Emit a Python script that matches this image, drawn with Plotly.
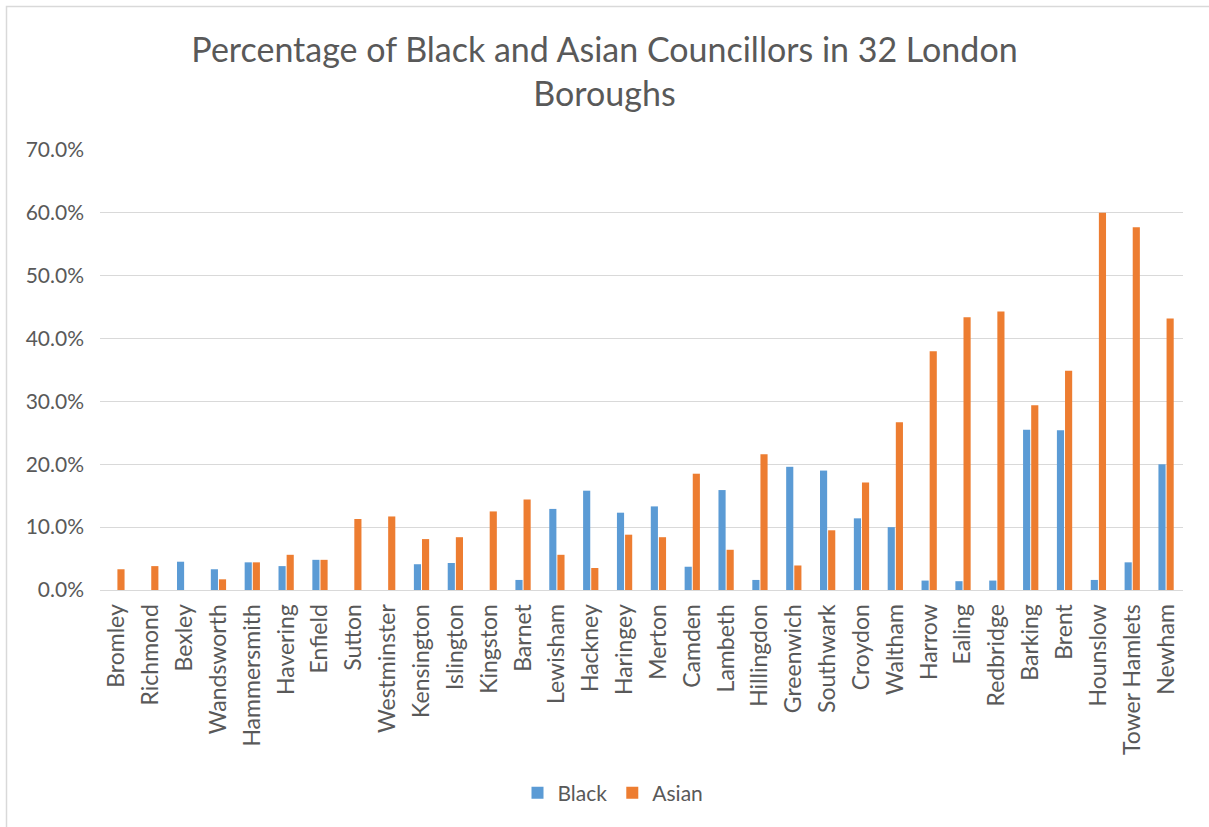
import plotly.graph_objects as go

boroughs = ["Bromley", "Richmond", "Bexley", "Wandsworth", "Hammersmith", "Havering",
            "Enfield", "Sutton", "Westminster", "Kensington", "Islington", "Kingston",
            "Barnet", "Lewisham", "Hackney", "Haringey", "Merton", "Camden", "Lambeth",
            "Hillingdon", "Greenwich", "Southwark", "Croydon", "Waltham", "Harrow",
            "Ealing", "Redbridge", "Barking", "Brent", "Hounslow", "Tower Hamlets", "Newham"]

black = [0.0, 0.0, 4.5, 3.3, 4.4, 3.8, 4.8, 0.0, 0.0, 4.1, 4.3, 0.0,
         1.6, 12.9, 15.8, 12.3, 13.3, 3.7, 15.9, 1.6, 19.6, 19.0, 11.4, 10.0,
         1.5, 1.4, 1.5, 25.5, 25.4, 1.6, 4.4, 20.0]

asian = [3.3, 3.8, 0.0, 1.7, 4.4, 5.6, 4.8, 11.3, 11.7, 8.1, 8.4, 12.5,
         14.4, 5.6, 3.5, 8.8, 8.4, 18.5, 6.4, 21.6, 3.9, 9.5, 17.1, 26.7,
         38.0, 43.4, 44.3, 29.4, 34.9, 60.0, 57.7, 43.2]

FONT = "Lato, Carlito, Calibri, sans-serif"
GREY = "#595959"

fig = go.Figure()
fig.add_trace(go.Bar(x=boroughs, y=[v / 100 for v in black], name="Black",
                     marker=dict(color="#5B9BD5", line=dict(width=0))))
fig.add_trace(go.Bar(x=boroughs, y=[v / 100 for v in asian], name="Asian",
                     marker=dict(color="#ED7D31", line=dict(width=0))))

W, H = 1209, 827
L, R, T, B = 100, 26, 150, 237
pw, ph = W - L - R, H - T - B

fig.update_layout(
    width=W, height=H,
    margin=dict(l=L, r=R, t=T, b=B),
    paper_bgcolor="white", plot_bgcolor="white",
    barmode="group", bargap=0.52, bargroupgap=0.12,
    font=dict(family=FONT, color=GREY, size=21),
    title=dict(text="Percentage of Black and Asian Councillors in 32 London<br>Boroughs",
               x=0.5, xanchor="center", y=1 - 62 / H, yanchor="middle",
               font=dict(family=FONT, size=34, color=GREY)),
    xaxis=dict(tickangle=-90, showgrid=False, showline=True, linecolor="#D9D9D9",
               ticks="", ticklabelstandoff=4, tickfont=dict(size=23, color=GREY)),
    yaxis=dict(range=[0, 0.7], dtick=0.1, tickformat=".1%", showgrid=True,
               gridcolor="#D9D9D9", gridwidth=1, zeroline=False, showline=False,
               ticks="", ticklabelstandoff=15, tickfont=dict(size=21, color=GREY)),
    legend=dict(orientation="h", x=(613 - L) / pw, xanchor="center", y=(590 - 793) / ph,
                yanchor="middle", font=dict(size=21, color=GREY),
                traceorder="normal"),
    shapes=[dict(type="rect", xref="paper", yref="paper",
                 x0=(6.5 - L) / pw, x1=(W + 10 - L) / pw,
                 y0=(T + ph - (H + 10)) / ph, y1=(T + ph - 6.5) / ph,
                 line=dict(color="#D9D9D9", width=1.5), fillcolor="rgba(0,0,0,0)")],
)

fig.write_html("out.html", config={"displayModeBar": False},
               post_script="document.body.style.margin='0';document.body.style.overflow='hidden';")
